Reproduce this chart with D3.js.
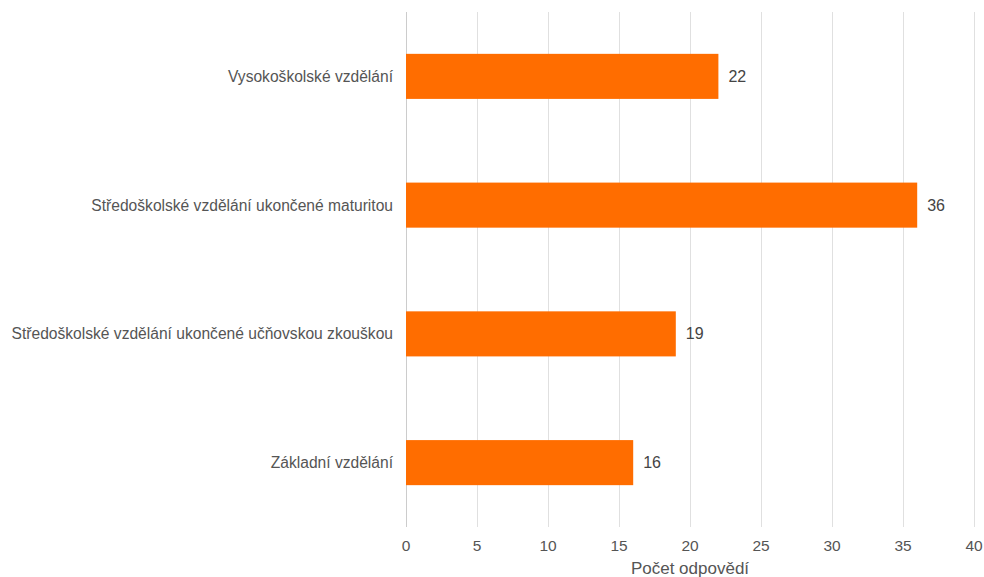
<!DOCTYPE html>
<html><head><meta charset="utf-8">
<script src="https://cdn.jsdelivr.net/npm/d3@7/dist/d3.min.js"></script>
<style>body{margin:0;background:#fff}svg{display:block}text{font-family:"Liberation Sans",Arial,sans-serif}</style>
</head><body><svg id="c" width="984" height="577"></svg>
<script>
const categories = ["Vysokoškolské vzdělání","Středoškolské vzdělání ukončené maturitou","Středoškolské vzdělání ukončené učňovskou zkouškou","Základní vzdělání"];
const values = [22,36,19,16];
const xTicks = [0,5,10,15,20,25,30,35,40];
const xTitle = "Počet odpovědí";

const svg = d3.select("#c");
const pLeft = 406, pRight = 974, pTop = 12, pBottom = 527;
const x = d3.scaleLinear().domain([0,40]).range([pLeft,pRight]);
const y = d3.scaleBand().domain(categories).range([pTop,pBottom]).paddingInner(0.65).paddingOuter(0.325);

svg.append("g").selectAll("line").data(xTicks).join("line")
  .attr("x1",d=>x(d)).attr("x2",d=>x(d)).attr("y1",pTop).attr("y2",pBottom)
  .attr("stroke",d=>d===0?"#ccc":"#e0e0e0").attr("stroke-width",1).attr("shape-rendering","crispEdges");

svg.append("g").selectAll("rect").data(values).join("rect")
  .attr("x",x(0)).attr("y",(d,i)=>y(categories[i])).attr("width",d=>x(d)-x(0)).attr("height",y.bandwidth())
  .attr("fill","#ff6d00");

svg.append("g").selectAll("text").data(values).join("text")
  .attr("x",d=>x(d)+10).attr("y",(d,i)=>y(categories[i])+y.bandwidth()/2).attr("dy","0.35em")
  .attr("font-size",16).attr("fill","#444").text(d=>d);

svg.append("g").selectAll("text").data(categories).join("text")
  .attr("x",pLeft-13).attr("y",d=>y(d)+y.bandwidth()/2).attr("dy","0.35em")
  .attr("text-anchor","end").attr("font-size",15.6).attr("fill","#555").text(d=>d);

svg.append("g").selectAll("text").data(xTicks).join("text")
  .attr("x",d=>x(d)).attr("y",546).attr("dy","0.35em").attr("text-anchor","middle")
  .attr("font-size",15.5).attr("fill","#555").text(d=>d);

svg.append("text").attr("x",690).attr("y",574).attr("text-anchor","middle")
  .attr("font-size",17).attr("fill","#555").text(xTitle);
</script></body></html>
